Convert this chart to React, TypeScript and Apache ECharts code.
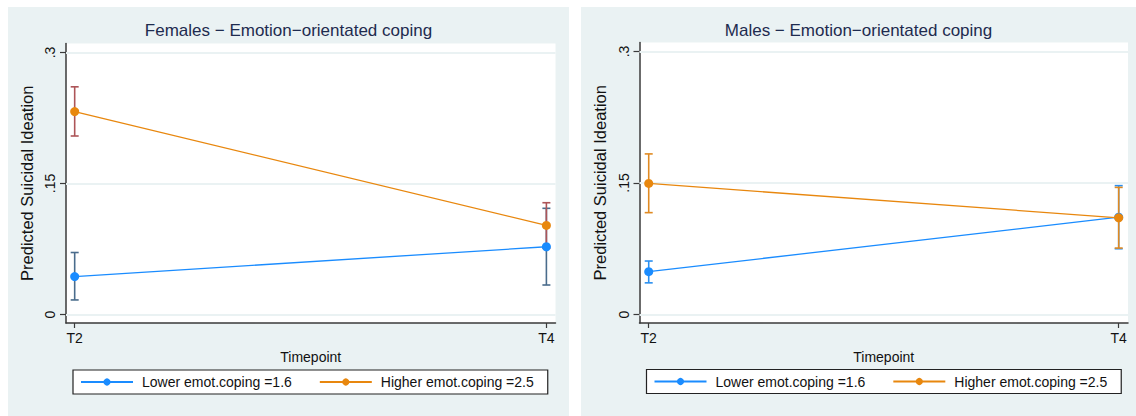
import React, { useEffect, useRef } from "react";
import * as echarts from "echarts";

// ---------- data ----------
const timepoints = ["T2", "T4"];
const xPositions = [0, 1];
const yTickValues = [0, 0.15, 0.3];
const yTickLabels = ["0", ".15", ".3"];
const lowerName = "Lower emot.coping =1.6";
const higherName = "Higher emot.coping =2.5";

// Females
const femLowerMean = [0.0434, 0.0776];
const femLowerLo = [0.0167, 0.0338];
const femLowerHi = [0.071, 0.1216];
const femHigherMean = [0.2324, 0.102];
const femHigherLo = [0.2044, 0.076];
const femHigherHi = [0.2607, 0.128];

// Males
const maleLowerMean = [0.0489, 0.111];
const maleLowerLo = [0.0361, 0.075];
const maleLowerHi = [0.061, 0.147];
const maleHigherMean = [0.1495, 0.1103];
const maleHigherLo = [0.1162, 0.0758];
const maleHigherHi = [0.1832, 0.145];

// ---------- styles ----------
const FONT = '"Liberation Sans", Arial, Helvetica, sans-serif';
const PANEL_BG = "#eaf2f3";
const BLUE = "#1a8cff";
const ORANGE = "#e8870e";

function errorSeries(name: string, lo: number[], hi: number[], color: string, z: number) {
  return {
    type: "custom",
    name,
    z,
    silent: true,
    encode: { x: 0, y: [1, 2] },
    data: xPositions.map((x, i) => [x, lo[i], hi[i]]),
    renderItem: (params: any, api: any) => {
      const x = api.value(0);
      const pLo = api.coord([x, api.value(1)]);
      const pHi = api.coord([x, api.value(2)]);
      const hw = 4;
      const style = { stroke: color, lineWidth: 1.6 };
      return {
        type: "group",
        children: [
          { type: "line", shape: { x1: pLo[0], y1: pLo[1], x2: pHi[0], y2: pHi[1] }, style },
          { type: "line", shape: { x1: pHi[0] - hw, y1: pHi[1], x2: pHi[0] + hw, y2: pHi[1] }, style },
          { type: "line", shape: { x1: pLo[0] - hw, y1: pLo[1], x2: pLo[0] + hw, y2: pLo[1] }, style },
        ],
      };
    },
  };
}

function lineSeries(name: string, mean: number[], color: string, z: number) {
  return {
    type: "line",
    name,
    z,
    data: xPositions.map((x, i) => [x, mean[i]]),
    symbol: "circle",
    symbolSize: 9,
    showSymbol: true,
    itemStyle: { color },
    lineStyle: { color, width: 1.3 },
  };
}

function buildOption(cfg: any) {
  return {
    animation: false,
    backgroundColor: PANEL_BG,
    title: {
      text: cfg.title,
      left: "center",
      top: 10,
      textStyle: { fontFamily: FONT, fontSize: 17, fontWeight: "normal", color: "#1e2b4f" },
    },
    legend: {
      left: cfg.legendLeft,
      top: cfg.legendTop,
      data: [lowerName, higherName],
      backgroundColor: "#ffffff",
      borderColor: "#222222",
      borderWidth: 1.2,
      borderRadius: 0,
      padding: [5, 14, 5, 7],
      itemWidth: 52,
      itemHeight: 9,
      itemGap: 27,
      selectedMode: false,
      textStyle: { fontFamily: FONT, fontSize: 14, color: "#111", padding: [0, 0, 0, 4] },
    },
    grid: {
      left: cfg.gridLeft,
      right: cfg.gridRight,
      top: cfg.gridTop,
      bottom: 93,
      show: true,
      backgroundColor: "#ffffff",
      borderWidth: 0,
    },
    xAxis: {
      type: "value",
      min: cfg.xMin,
      max: cfg.xMax,
      name: "Timepoint",
      nameLocation: "middle",
      nameGap: 21,
      nameTextStyle: { fontFamily: FONT, fontSize: 14, color: "#111" },
      axisLine: { show: true, onZero: false, lineStyle: { color: "#3a3a3a", width: 1.5 } },
      axisTick: { show: true, length: 5, customValues: xPositions, lineStyle: { color: "#3a3a3a", width: 1.2 } },
      axisLabel: {
        customValues: xPositions,
        margin: 8,
        fontFamily: FONT,
        fontSize: 14,
        color: "#111",
        formatter: (v: number) => timepoints[Math.round(v)],
      },
      splitLine: { show: false },
    },
    yAxis: {
      type: "value",
      min: -0.0097,
      max: 0.3103,
      name: "Predicted Suicidal Ideation",
      nameLocation: "middle",
      nameRotate: 90,
      nameGap: 26,
      nameTextStyle: { fontFamily: FONT, fontSize: 16.5, color: "#111" },
      axisLine: { show: true, onZero: false, lineStyle: { color: "#3a3a3a", width: 1.5 } },
      axisTick: { show: true, length: 6, customValues: yTickValues, lineStyle: { color: "#3a3a3a", width: 1.2 } },
      axisLabel: {
        customValues: yTickValues,
        rotate: 90,
        margin: 9,
        fontFamily: FONT,
        fontSize: 14,
        color: "#111",
        formatter: (v: number) => {
          const idx = yTickValues.findIndex((t) => Math.abs(t - v) < 1e-9);
          return idx >= 0 ? yTickLabels[idx] : "";
        },
      },
      splitLine: { show: false },
    },
    series: [
      {
        type: "line",
        name: "gridlines",
        z: 1,
        data: [],
        markLine: {
          silent: true,
          symbol: ["none", "none"],
          label: { show: false },
          lineStyle: { color: PANEL_BG, width: 2, type: "solid" },
          data: yTickValues.map((v) => ({ yAxis: v })),
        },
      },
      errorSeries("lowerCI", cfg.lowerLo, cfg.lowerHi, cfg.lowerErrColor, 3),
      errorSeries("higherCI", cfg.higherLo, cfg.higherHi, cfg.higherErrColor, 4),
      lineSeries(lowerName, cfg.lowerMean, BLUE, 5),
      lineSeries(higherName, cfg.higherMean, ORANGE, 6),
    ],
  };
}

function Panel(props: { cfg: any; left: number; top: number; width: number; height: number }) {
  const ref = useRef<HTMLDivElement>(null);
  useEffect(() => {
    if (!ref.current) return;
    const chart = echarts.init(ref.current, undefined, { renderer: "svg" });
    chart.setOption(buildOption(props.cfg));
    return () => chart.dispose();
  }, []);
  return (
    <div
      ref={ref}
      style={{ position: "absolute", left: props.left, top: props.top, width: props.width, height: props.height }}
    />
  );
}

const femaleCfg = {
  title: "Females \u2212 Emotion\u2212orientated coping",
  lowerMean: femLowerMean,
  lowerLo: femLowerLo,
  lowerHi: femLowerHi,
  higherMean: femHigherMean,
  higherLo: femHigherLo,
  higherHi: femHigherHi,
  lowerErrColor: "#4a6c8c",
  higherErrColor: "#ad5558",
  gridLeft: 58,
  gridRight: 13.5,
  gridTop: 36.5,
  xMin: -0.0184,
  xMax: 1.0193,
  legendLeft: 65,
  legendTop: 363,
};

const maleCfg = {
  title: "Males \u2212 Emotion\u2212orientated coping",
  lowerMean: maleLowerMean,
  lowerLo: maleLowerLo,
  lowerHi: maleLowerHi,
  higherMean: maleHigherMean,
  higherLo: maleHigherLo,
  higherHi: maleHigherHi,
  lowerErrColor: "#2a8ff0",
  higherErrColor: "#e08a22",
  gridLeft: 58.5,
  gridRight: 8,
  gridTop: 35.5,
  xMin: -0.0196,
  xMax: 1.0198,
  legendLeft: 65.5,
  legendTop: 362.5,
};

export default function App() {
  return (
    <div style={{ position: "absolute", left: 0, top: 0, width: 1136, height: 416, background: "#ffffff" }}>
      <Panel cfg={femaleCfg} left={8} top={7} width={561} height={409} />
      <Panel cfg={maleCfg} left={581} top={7} width={555} height={409} />
    </div>
  );
}
